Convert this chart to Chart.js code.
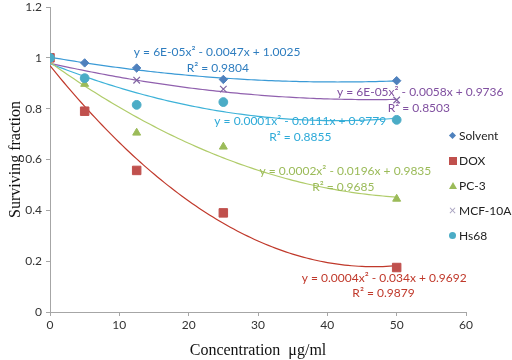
<!DOCTYPE html>
<html>
<head>
<meta charset="utf-8">
<script src="https://cdn.jsdelivr.net/npm/chart.js@4.4.1/dist/chart.umd.min.js"></script>
<style>
  html, body { margin: 0; padding: 0; background: #fff; }
  #wrap { position: relative; width: 512px; height: 360px; }
  #legend { position: absolute; left: 448px; top: 123px; font: 12px Lato, "Liberation Sans", sans-serif; color: #222; }
  .row { height: 25px; display: flex; align-items: center; white-space: nowrap; }
  .mk { width: 9px; height: 9px; margin-right: 2px; display: flex; align-items: center; justify-content: center; }
</style>
</head>
<body>
<div id="wrap">
  <canvas id="c" width="512" height="360"></canvas>
  <div id="legend"></div>
</div>
<script>
// ---- data ----
const concentrations = [0, 5, 12.5, 25, 50];
const seriesNames = ["Solvent", "DOX", "PC-3", "MCF-10A", "Hs68"];
const solvent = [1.0, 0.98, 0.96, 0.915, 0.91];
const dox     = [1.0, 0.79, 0.557, 0.39, 0.175];
const pc3     = [1.0, 0.897, 0.705, 0.65, 0.445];
const mcf10a  = [1.0, 0.92, 0.912, 0.877, 0.834];
const hs68    = [1.0, 0.92, 0.815, 0.826, 0.756];
const equations = [
  "y = 6E-05x\u00B2 - 0.0047x + 1.0025",
  "y = 0.0004x\u00B2 - 0.034x + 0.9692",
  "y = 0.0002x\u00B2 - 0.0196x + 0.9835",
  "y = 6E-05x\u00B2 - 0.0058x + 0.9736",
  "y = 0.0001x\u00B2 - 0.0111x + 0.9779"
];
const rSquared = ["R\u00B2 = 0.9804", "R\u00B2 = 0.9879", "R\u00B2 = 0.9685", "R\u00B2 = 0.8503", "R\u00B2 = 0.8855"];
const xTickValues = [0, 10, 20, 30, 40, 50, 60];
const yTickValues = [0, 0.2, 0.4, 0.6, 0.8, 1, 1.2];

// ---- styling ----
const markerColors = ["#4F81BD", "#C0504D", "#9BBB59", "#8064A2", "#4BACC6"];
const lineColors   = ["#3A9AD6", "#C0392B", "#B0CC6A", "#9060AE", "#3DB2D8"];
const labelColors  = ["#2E7DBF", "#C0392B", "#9BBB59", "#8050A0", "#2EAAD8"];
const pointStyles  = ["rectRot", "rect", "triangle", "crossRot", "circle"];
const pointRadii   = [4.2, 6, 4.6, 4.6, 4.4];
// label anchor (data units) for equation and R² text
const eqAnchor = [[24.1, 1.021], [48.2, 0.133], [42.6, 0.554], [53.4, 0.865], [36.1, 0.752]];
const r2Anchor = [[24.2, 0.959], [48.1, 0.074], [42.3, 0.491], [53.2, 0.803], [36.1, 0.690]];

const allSeries = [solvent, dox, pc3, mcf10a, hs68];

// quadratic least-squares fit (Excel polynomial trendline, order 2)
function polyFit2(xs, ys) {
  let S = [0,0,0,0,0], T = [0,0,0];
  for (let i = 0; i < xs.length; i++) {
    let p = 1;
    for (let k = 0; k < 5; k++) { S[k] += p; if (k < 3) T[k] += p * ys[i]; p *= xs[i]; }
  }
  const A = [[S[0],S[1],S[2],T[0]],[S[1],S[2],S[3],T[1]],[S[2],S[3],S[4],T[2]]];
  for (let i = 0; i < 3; i++) {
    for (let j = i+1; j < 3; j++) {
      const f = A[j][i] / A[i][i];
      for (let k = i; k < 4; k++) A[j][k] -= f * A[i][k];
    }
  }
  const c = [0,0,0];
  for (let i = 2; i >= 0; i--) {
    let s = A[i][3];
    for (let k = i+1; k < 3; k++) s -= A[i][k] * c[k];
    c[i] = s / A[i][i];
  }
  return c; // c0 + c1 x + c2 x^2
}

const datasets = [];
allSeries.forEach((ys, i) => {
  datasets.push({
    label: seriesNames[i],
    data: concentrations.map((x, j) => ({x, y: ys[j]})),
    showLine: false,
    pointStyle: pointStyles[i],
    pointRadius: pointRadii[i],
    pointBackgroundColor: markerColors[i],
    pointBorderColor: markerColors[i],
    pointBorderWidth: pointStyles[i] === "crossRot" ? 1.2 : 1,
    order: 10 - i
  });
});
allSeries.forEach((ys, i) => {
  const c = polyFit2(concentrations, ys);
  const pts = [];
  const xmin = concentrations[0], xmax = concentrations[concentrations.length-1];
  for (let k = 0; k <= 100; k++) {
    const x = xmin + (xmax - xmin) * k / 100;
    pts.push({x, y: c[0] + c[1]*x + c[2]*x*x});
  }
  datasets.push({
    label: seriesNames[i] + " trend",
    data: pts,
    showLine: true,
    borderColor: lineColors[i],
    borderWidth: 1.2,
    pointRadius: 0,
    fill: false,
    order: 20
  });
});

const labelPlugin = {
  id: "trendLabels",
  afterDatasetsDraw(chart) {
    const ctx = chart.ctx, xs = chart.scales.x, ys = chart.scales.y;
    ctx.save();
    ctx.font = "12px Lato, 'Liberation Sans', sans-serif";
    ctx.textAlign = "center";
    ctx.textBaseline = "middle";
    for (let i = 0; i < equations.length; i++) {
      ctx.fillStyle = labelColors[i];
      ctx.fillText(equations[i], xs.getPixelForValue(eqAnchor[i][0]), ys.getPixelForValue(eqAnchor[i][1]));
      ctx.fillText(rSquared[i], xs.getPixelForValue(r2Anchor[i][0]), ys.getPixelForValue(r2Anchor[i][1]));
    }
    ctx.restore();
  }
};

const axisColor = "#A6A6A6";
const tickFont = { family: "Lato, 'Liberation Sans', sans-serif", size: 12 };
const fmt = v => String(Number(v.toFixed(2)));
new Chart(document.getElementById("c"), {
  type: "scatter",
  data: { datasets },
  plugins: [labelPlugin],
  options: {
    responsive: false,
    animation: false,
    layout: { padding: { left: 0, right: 46, top: -4, bottom: 0 } },
    plugins: { legend: { display: false }, tooltip: { enabled: false } },
    scales: {
      x: {
        type: "linear", min: 0, max: 60,
        afterBuildTicks: s => { s.ticks = xTickValues.map(v => ({value: v})); },
        afterFit: s => { s.height = 48; s.paddingLeft = 0; s.paddingRight = 0; },
        ticks: { font: tickFont, color: "#333", padding: 2, maxRotation: 0, callback: fmt },
        grid: { display: true, drawOnChartArea: false, drawTicks: true, tickLength: 4, color: axisColor },
        border: { color: axisColor },
        title: { display: true, text: "Concentration  \u03BCg/ml", font: { family: "'Liberation Serif', serif", size: 16 }, color: "#111", padding: { top: 2, bottom: 0 } }
      },
      y: {
        type: "linear", min: 0, max: 1.2,
        afterBuildTicks: s => { s.ticks = yTickValues.map(v => ({value: v})); },
        afterFit: s => { s.width = 50; s.paddingTop = 0; s.paddingBottom = 0; },
        ticks: { font: tickFont, color: "#333", padding: 4, callback: fmt },
        grid: { display: true, drawOnChartArea: false, drawTicks: true, tickLength: 4, color: axisColor },
        border: { color: axisColor },
        title: { display: true, text: "Surviving fraction", font: { family: "'Liberation Serif', serif", size: 16 }, color: "#111", padding: { top: 6, bottom: 0 } }
      }
    }
  }
});

// HTML legend built from the series arrays
const legend = document.getElementById("legend");
seriesNames.forEach((name, i) => {
  const row = document.createElement("div"); row.className = "row";
  const mk = document.createElement("div"); mk.className = "mk";
  const c = markerColors[i];
  const s = document.createElement("div");
  if (pointStyles[i] === "rectRot") { s.style.cssText = `width:5px;height:5px;background:${c};transform:rotate(45deg)`; }
  else if (pointStyles[i] === "rect") { s.style.cssText = `width:8px;height:8px;background:${c}`; }
  else if (pointStyles[i] === "triangle") { s.style.cssText = `width:0;height:0;border-left:4px solid transparent;border-right:4px solid transparent;border-bottom:7px solid ${c}`; }
  else if (pointStyles[i] === "crossRot") { s.textContent = "\u00D7"; s.style.cssText = `color:#A9A3C0;font-size:13px;line-height:9px`; }
  else { s.style.cssText = `width:7px;height:7px;border-radius:50%;background:${c}`; }
  mk.appendChild(s);
  const t = document.createElement("span"); t.textContent = name;
  row.appendChild(mk); row.appendChild(t);
  legend.appendChild(row);
});
</script>
</body>
</html>
